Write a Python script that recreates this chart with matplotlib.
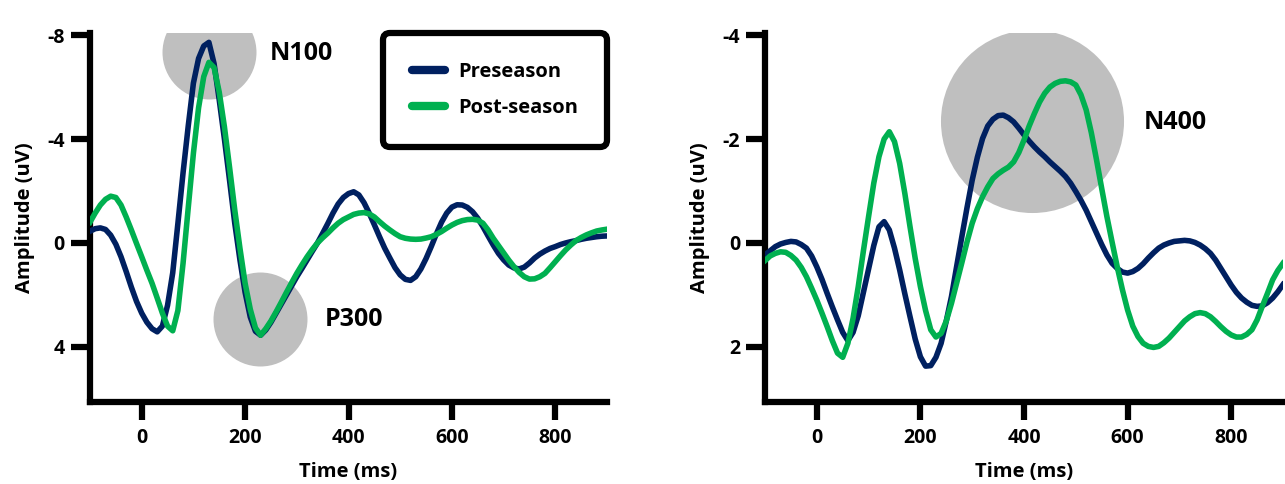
import numpy as np
import matplotlib
matplotlib.use("Agg")
import matplotlib.pyplot as plt

plt.rcParams["font.family"] = ["Open Sans", "DejaVu Sans"]
plt.rcParams["font.weight"] = "bold"
plt.rcParams["axes.unicode_minus"] = False

navy = "#002060"
green = "#00b050"
grey = "#bfbfbf"

# eje de tiempo comun (ms), un valor cada 10 ms
time_ms = list(range(-100, 901, 10))

# Panel izquierdo (N100 / P300)
pre_left = [-0.45, -0.55, -0.58, -0.52, -0.3, 0.05, 0.53, 1.1, 1.7, 2.25,
            2.7, 3.05, 3.3, 3.42, 3.2, 2.4, 1.15, -0.75, -2.7, -4.5,
            -6.15, -7.1, -7.58, -7.72, -6.9, -5.5, -4.0, -2.4, -0.76, 0.65,
            1.9, 2.85, 3.4, 3.55, 3.35, 3.05, 2.7, 2.35, 2.0, 1.65,
            1.3, 0.98, 0.65, 0.32, 0.0, -0.37, -0.75, -1.15, -1.5, -1.75,
            -1.9, -1.97, -1.85, -1.55, -1.15, -0.7, -0.24, 0.2, 0.58, 0.95,
            1.23, 1.4, 1.44, 1.3, 1.0, 0.6, 0.14, -0.35, -0.8, -1.15,
            -1.38, -1.47, -1.46, -1.37, -1.2, -0.95, -0.63, -0.27, 0.08, 0.4,
            0.65, 0.85, 0.96, 1.0, 0.93, 0.77, 0.58, 0.43, 0.31, 0.21,
            0.14, 0.06, 0.0, -0.05, -0.09, -0.14, -0.18, -0.21, -0.24, -0.26,
            -0.27]
post_left = [-0.8, -1.15, -1.46, -1.68, -1.8, -1.75, -1.46, -1.0, -0.5, 0.02,
             0.53, 1.05, 1.55, 2.12, 2.7, 3.2, 3.38, 2.6, 0.78, -1.35,
             -3.45, -5.2, -6.4, -6.95, -6.75, -5.8, -4.47, -2.9, -1.27, 0.2,
             1.55, 2.55, 3.27, 3.55, 3.3, 3.0, 2.65, 2.28, 1.9, 1.53,
             1.17, 0.84, 0.53, 0.25, 0.0, -0.2, -0.38, -0.58, -0.76, -0.9,
             -1.0, -1.1, -1.15, -1.17, -1.12, -1.0, -0.82, -0.65, -0.5, -0.36,
             -0.24, -0.18, -0.15, -0.14, -0.15, -0.19, -0.24, -0.33, -0.44, -0.57,
             -0.69, -0.79, -0.86, -0.9, -0.91, -0.88, -0.76, -0.5, -0.18, 0.1,
             0.38, 0.66, 0.91, 1.13, 1.3, 1.39, 1.38, 1.3, 1.17, 0.95,
             0.72, 0.49, 0.27, 0.08, -0.09, -0.21, -0.31, -0.39, -0.46, -0.5,
             -0.53]

# Panel derecho (N400)
pre_right = [0.23, 0.15, 0.07, 0.02, -0.01, -0.03, -0.02, 0.03, 0.1, 0.25,
             0.46, 0.7, 0.97, 1.23, 1.48, 1.72, 1.88, 1.72, 1.4, 0.95,
             0.5, 0.05, -0.31, -0.41, -0.25, 0.1, 0.52, 0.98, 1.42, 1.85,
             2.19, 2.37, 2.36, 2.2, 1.93, 1.5, 1.03, 0.45, -0.12, -0.68,
             -1.21, -1.65, -2.01, -2.25, -2.38, -2.45, -2.46, -2.41, -2.33, -2.21,
             -2.08, -1.96, -1.85, -1.75, -1.66, -1.56, -1.47, -1.38, -1.28, -1.15,
             -0.99, -0.82, -0.63, -0.41, -0.19, 0.03, 0.23, 0.39, 0.49, 0.56,
             0.58, 0.55, 0.49, 0.4, 0.29, 0.19, 0.1, 0.04, 0.0, -0.03,
             -0.04, -0.05, -0.04, -0.01, 0.04, 0.11, 0.2, 0.33, 0.49, 0.65,
             0.81, 0.95, 1.06, 1.14, 1.2, 1.22, 1.21, 1.15, 1.06, 0.94,
             0.8]
post_right = [0.34, 0.25, 0.2, 0.17, 0.18, 0.24, 0.33, 0.47, 0.65, 0.87,
              1.1, 1.35, 1.61, 1.88, 2.12, 2.2, 1.93, 1.45, 0.84, 0.15,
              -0.51, -1.15, -1.66, -2.0, -2.14, -1.95, -1.53, -0.95, -0.31, 0.3,
              0.84, 1.3, 1.67, 1.81, 1.74, 1.5, 1.16, 0.77, 0.38, -0.02,
              -0.38, -0.66, -0.89, -1.08, -1.24, -1.33, -1.4, -1.46, -1.56, -1.74,
              -1.98, -2.25, -2.49, -2.71, -2.88, -3.0, -3.07, -3.11, -3.12, -3.1,
              -3.04, -2.85, -2.56, -2.12, -1.6, -1.05, -0.51, -0.02, 0.46, 0.9,
              1.29, 1.6, 1.8, 1.93, 1.99, 2.01, 1.99, 1.92, 1.83, 1.72,
              1.61, 1.5, 1.42, 1.36, 1.34, 1.36, 1.42, 1.51, 1.61, 1.7,
              1.77, 1.81, 1.81, 1.76, 1.67, 1.48, 1.22, 0.97, 0.71, 0.53,
              0.39]

x_ticks = [0, 200, 400, 600, 800]
y_ticks_left = [-8, -4, 0, 4]
y_ticks_right = [-4, -2, 0, 2]
labels = ["Preseason", "Post-season"]

W, H = 1285, 484
fig = plt.figure(figsize=(W / 100, H / 100), dpi=100)


def make_axes(left_px, right_px, ylim, yticks):
    ax = fig.add_axes([left_px / W, (H - 402) / H, (right_px - left_px) / W, 369 / H])
    ax.set_xlim(-100, 900)
    ax.set_ylim(*ylim)
    ax.set_xticks(x_ticks)
    ax.set_yticks(yticks)
    for side in ["top", "right"]:
        ax.spines[side].set_visible(False)
    for side in ["left", "bottom"]:
        ax.spines[side].set_linewidth(4.5)
        ax.spines[side].set_capstyle("projecting")
    ax.tick_params(axis="both", width=4.5, labelsize=14)
    ax.tick_params(axis="y", length=14, pad=4)
    ax.tick_params(axis="x", length=13, pad=6)
    ax.set_xlabel("Time (ms)", fontsize=14.5, fontweight="bold", labelpad=10)
    ax.set_ylabel("Amplitude (uV)", fontsize=14.5, fontweight="bold", labelpad=9)
    return ax


ax1 = make_axes(90, 607, (6.12, -8.08), y_ticks_left)
ax2 = make_axes(765, 1283, (3.06, -4.04), y_ticks_right)

# circulos de componentes
ax1.scatter([130], [-7.35], s=4580, color=grey, zorder=1, linewidths=0)
ax1.scatter([229], [2.92], s=4580, color=grey, zorder=1, linewidths=0)
ax2.scatter([415], [-2.34], s=17370, color=grey, zorder=1, linewidths=0)

l1, = ax1.plot(time_ms, pre_left, color=navy, lw=4, zorder=3, solid_joinstyle="round")
l2, = ax1.plot(time_ms, post_left, color=green, lw=4, zorder=4, solid_joinstyle="round")
ax2.plot(time_ms, pre_right, color=navy, lw=4, zorder=3, solid_joinstyle="round")
ax2.plot(time_ms, post_right, color=green, lw=4, zorder=4, solid_joinstyle="round")

ax1.text(248, -7.3, "N100", fontsize=18, fontweight="bold", ha="left", va="center")
ax1.text(355, 2.96, "P300", fontsize=18, fontweight="bold", ha="left", va="center")
ax2.text(632, -2.31, "N400", fontsize=18, fontweight="bold", ha="left", va="center")

leg = ax1.legend([l1, l2], labels, loc="upper right", bbox_to_anchor=(1.0, 1.0), borderaxespad=0,
                 frameon=True, fancybox=True, edgecolor="black", framealpha=1,
                 prop={"weight": "bold", "size": 14.5}, handlelength=1.6, handletextpad=0.65,
                 borderpad=1.45, labelspacing=0.78)
leg.get_frame().set_linewidth(4.5)
leg.get_frame().set_boxstyle("round", pad=0, rounding_size=0.35)
for h in leg.legend_handles:
    h.set_linewidth(6)
    h.set_solid_capstyle("round")

fig.savefig("out.png", dpi=100)
